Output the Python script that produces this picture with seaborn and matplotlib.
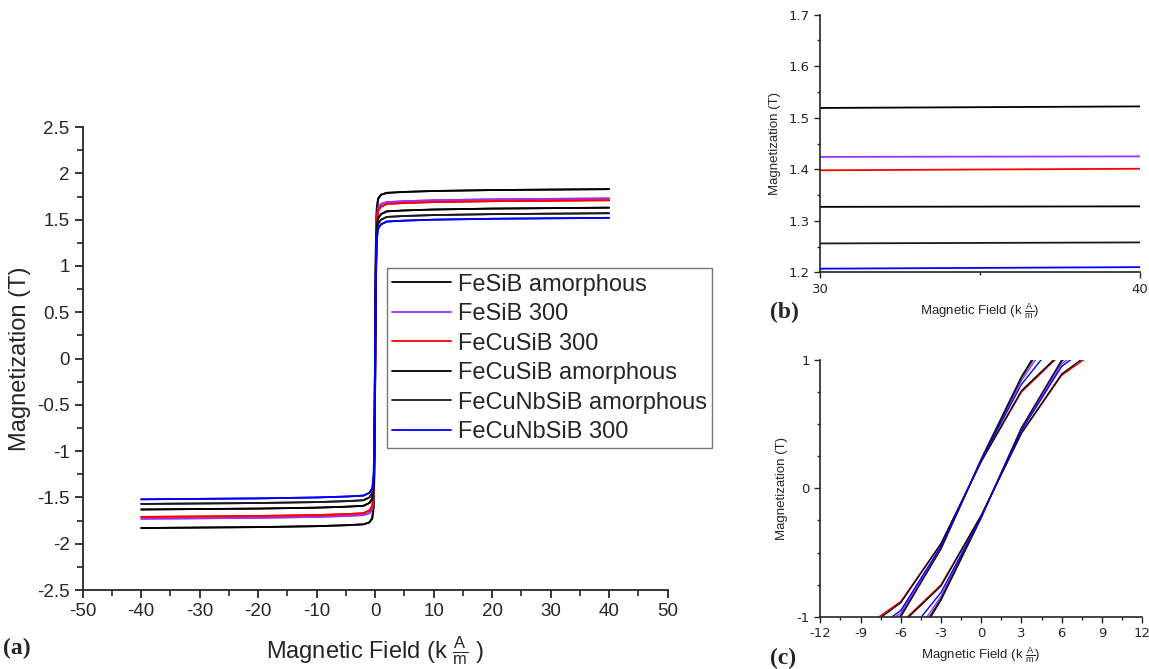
import numpy as np
import pandas as pd
import matplotlib
matplotlib.use("Agg")
import matplotlib.pyplot as plt
from matplotlib.lines import Line2D
from matplotlib.ticker import MultipleLocator
import seaborn as sns

sns.set_style("ticks")
plt.rcParams["font.family"] = ["Liberation Sans", "DejaVu Sans"]
plt.rcParams["axes.unicode_minus"] = False
plt.rcParams["mathtext.fontset"] = "custom"
plt.rcParams["mathtext.rm"] = "Liberation Sans"
plt.rcParams["mathtext.it"] = "Liberation Sans"

samples = ["FeSiB amorphous", "FeSiB 300", "FeCuSiB 300",
           "FeCuSiB amorphous", "FeCuNbSiB amorphous", "FeCuNbSiB 300"]
colores = ["#000000", "#9b30ff", "#ff0000", "#000000", "#1a1a1a", "#0000ff"]

# (a) rama descendente del ciclo completo
H_a = [40, 20, 10, 5, 2, 1, 0.5, 0.25, 0.1, 0, -0.1, -0.25, -0.5, -1, -2, -5, -10, -20, -40]
M_a = [
    [1.83, 1.82, 1.81, 1.80, 1.79, 1.77, 1.73, 1.62, 1.20, 0.30, -0.80, -1.55, -1.72, -1.77, -1.79, -1.80, -1.81, -1.82, -1.83],
    [1.73, 1.72, 1.71, 1.70, 1.69, 1.67, 1.63, 1.52, 1.10, 0.30, -0.75, -1.45, -1.62, -1.67, -1.69, -1.70, -1.71, -1.72, -1.73],
    [1.71, 1.70, 1.69, 1.68, 1.67, 1.64, 1.60, 1.48, 1.05, 0.25, -0.75, -1.40, -1.59, -1.64, -1.67, -1.68, -1.69, -1.70, -1.71],
    [1.63, 1.62, 1.61, 1.60, 1.59, 1.56, 1.52, 1.42, 1.00, 0.25, -0.70, -1.35, -1.51, -1.56, -1.59, -1.60, -1.61, -1.62, -1.63],
    [1.57, 1.56, 1.55, 1.54, 1.53, 1.50, 1.46, 1.36, 0.95, 0.25, -0.70, -1.30, -1.45, -1.50, -1.53, -1.54, -1.55, -1.56, -1.57],
    [1.52, 1.51, 1.50, 1.49, 1.48, 1.45, 1.41, 1.30, 0.90, 0.20, -0.65, -1.25, -1.40, -1.45, -1.48, -1.49, -1.50, -1.51, -1.52],
]

# (b) zoom en saturacion, 30-40 kA/m
H_b = [30, 40]
M_b = [
    [1.519, 1.522],
    [1.424, 1.425],
    [1.398, 1.401],
    [1.327, 1.328],
    [1.256, 1.258],
    [1.207, 1.210],
]

# (c) zoom cerca del origen, rama descendente
H_c = [9, 6, 3, 0, -3, -6, -9]
M_c = [
    [1.60, 1.38, 0.87, 0.23, -0.47, -0.99, -1.25],
    [1.50, 1.30, 0.84, 0.22, -0.46, -0.97, -1.20],
    [1.20, 1.05, 0.75, 0.21, -0.43, -0.88, -1.10],
    [1.22, 1.06, 0.76, 0.21, -0.43, -0.89, -1.12],
    [1.55, 1.35, 0.86, 0.22, -0.47, -1.00, -1.25],
    [1.40, 1.20, 0.81, 0.22, -0.45, -0.95, -1.18],
]


def armar_ciclo(H, M_list):
    # rama descendente + rama ascendente (simetria del ciclo)
    filas = []
    for name, m in zip(samples, M_list):
        for h, v in zip(H, m):
            filas.append((name, "down", h, v))
        for h, v in zip(H, m):
            filas.append((name, "up", -h, -v))
    return pd.DataFrame(filas, columns=["sample", "branch", "H", "M"])


df_a = armar_ciclo(H_a, M_a)
df_c = armar_ciclo(H_c, M_c)
df_b = pd.DataFrame([(n, h, v) for n, m in zip(samples, M_b) for h, v in zip(H_b, m)],
                    columns=["sample", "H", "M"])

paleta = dict(zip(samples, colores))
xlabel = r"Magnetic Field (k $\frac{\mathrm{A}}{\mathrm{m}}$ )"

fig = plt.figure(figsize=(11.49, 6.69), dpi=100)

# ---- (a)
ax_a = fig.add_axes([0.072, 0.118, 0.509, 0.692])
for i, name in enumerate(samples):
    for br in ["down", "up"]:
        d = df_a[(df_a["sample"] == name) & (df_a["branch"] == br)]
        sns.lineplot(data=d, x="H", y="M", sort=False, estimator=None,
                     color=colores[i], linewidth=1.3, ax=ax_a)
ax_a.set_xlim(-50, 50)
ax_a.set_ylim(-2.5, 2.5)
ax_a.xaxis.set_major_locator(MultipleLocator(10))
ax_a.xaxis.set_minor_locator(MultipleLocator(5))
ax_a.yaxis.set_minor_locator(MultipleLocator(0.25))
ax_a.set_yticks(np.arange(-2.5, 2.51, 0.5))
ax_a.set_yticklabels([f"{v:g}" for v in np.arange(-2.5, 2.51, 0.5).round(2)])
ax_a.tick_params(which="major", length=6, width=1.3, labelsize=13.5)
ax_a.tick_params(which="minor", length=4, width=1.2)
ax_a.set_xlabel(xlabel, fontsize=17, labelpad=10)
ax_a.set_ylabel("Magnetization (T)", fontsize=17, labelpad=4)
for s in ["left", "bottom"]:
    ax_a.spines[s].set_linewidth(1.3)
sns.despine(ax=ax_a)

handles = [Line2D([0], [0], color=c, lw=1.3) for c in colores]
leg = ax_a.legend(handles, samples, loc="upper left", bbox_to_anchor=(0.52, 0.695),
                  fontsize=17, frameon=True, fancybox=False, handlelength=2.5,
                  handletextpad=0.3, labelspacing=0.32, borderpad=0.22,
                  borderaxespad=0)
leg.get_frame().set_edgecolor("#555555")
leg.get_frame().set_linewidth(1.0)

# ---- (b)
ax_b = fig.add_axes([0.714, 0.593, 0.278, 0.385])
sns.lineplot(data=df_b, x="H", y="M", hue="sample", hue_order=samples,
             palette=paleta, estimator=None, sort=False, linewidth=1.3,
             legend=False, ax=ax_b)
ax_b.set_xlim(30, 40)
ax_b.set_ylim(1.2, 1.7)
ax_b.set_xticks([30, 40])
ax_b.xaxis.set_minor_locator(MultipleLocator(5))
ax_b.yaxis.set_major_locator(MultipleLocator(0.1))
ax_b.yaxis.set_minor_locator(MultipleLocator(0.05))
ax_b.set_yticklabels([f"{v:.1f}" for v in ax_b.get_yticks()])
ax_b.tick_params(which="major", length=4, width=1, labelsize=9.5)
ax_b.tick_params(which="minor", length=2.5, width=1)
for t in ax_b.get_xticklabels() + ax_b.get_yticklabels():
    t.set_family("DejaVu Sans")
ax_b.set_xlabel(r"Magnetic Field (k $\frac{\mathrm{A}}{\mathrm{m}}$)", fontsize=9.5, labelpad=4)
ax_b.set_ylabel("Magnetization (T)", fontsize=9.5, labelpad=6)
for s in ["left", "bottom"]:
    ax_b.spines[s].set_linewidth(1.2)
sns.despine(ax=ax_b)

# ---- (c)
ax_c = fig.add_axes([0.714, 0.078, 0.280, 0.384])
for i, name in enumerate(samples):
    for br in ["down", "up"]:
        d = df_c[(df_c["sample"] == name) & (df_c["branch"] == br)]
        sns.lineplot(data=d, x="H", y="M", sort=False, estimator=None,
                     color=colores[i], linewidth=1.0, ax=ax_c)
ax_c.set_xlim(-12, 12)
ax_c.set_ylim(-1, 1)
ax_c.xaxis.set_major_locator(MultipleLocator(3))
ax_c.xaxis.set_minor_locator(MultipleLocator(1.5))
ax_c.set_yticks([-1, 0, 1])
ax_c.yaxis.set_minor_locator(MultipleLocator(0.25))
ax_c.set_xticklabels([f"{v:g}" for v in ax_c.get_xticks()])
ax_c.set_yticklabels(["-1", "0", "1"])
ax_c.tick_params(which="major", length=4, width=1, labelsize=9.5)
ax_c.tick_params(which="minor", length=2.5, width=1)
for t in ax_c.get_xticklabels() + ax_c.get_yticklabels():
    t.set_family("DejaVu Sans")
ax_c.set_xlabel(r"Magnetic Field (k $\frac{\mathrm{A}}{\mathrm{m}}$)", fontsize=9.5, labelpad=4)
ax_c.set_ylabel("Magnetization (T)", fontsize=9.5, labelpad=6)
for s in ["left", "bottom"]:
    ax_c.spines[s].set_linewidth(1.2)
sns.despine(ax=ax_c)

# etiquetas de panel
for txt, x, y in [("(a)", 0.003, 0.022), ("(b)", 0.670, 0.525), ("(c)", 0.670, 0.008)]:
    fig.text(x, y, txt, fontsize=17, fontweight="bold", family="Liberation Serif")

plt.savefig("out.png", dpi=100)
plt.close()
